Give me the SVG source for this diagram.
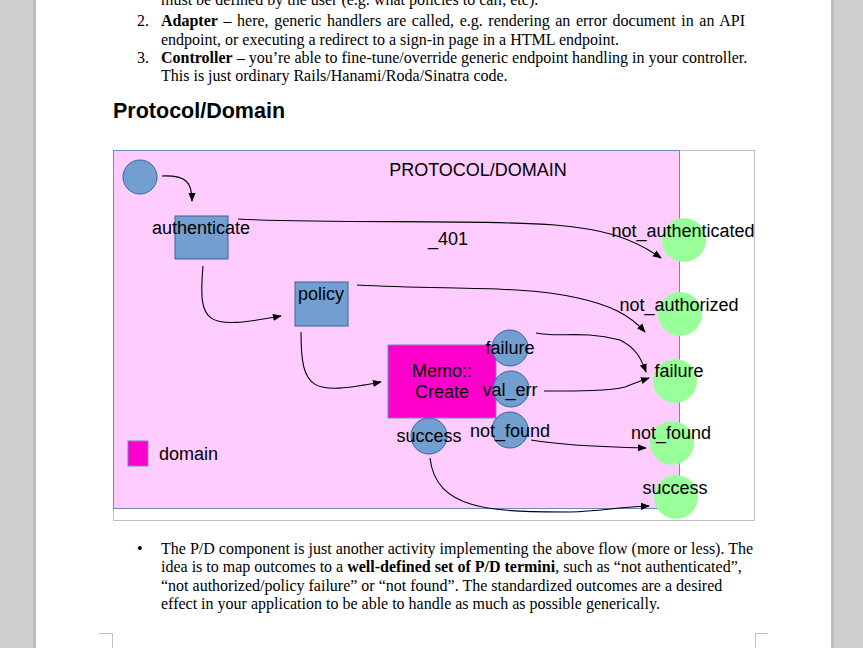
<svg xmlns="http://www.w3.org/2000/svg" width="863" height="648" viewBox="0 0 863 648">
<defs>
<style>
.doc{font-family:"Liberation Serif","Times New Roman",serif;font-size:16px;fill:#000}
.b{font-weight:bold}
.lbl{font-family:"Liberation Sans",Arial,sans-serif;font-size:18px;fill:#000}
.blue{fill:#729fcf;stroke:#3465a4;stroke-width:1}
.green{fill:#99ff99;stroke:none}
.conn{fill:none;stroke:#000;stroke-width:1.1;marker-end:url(#ah)}
</style>
<marker id="ah" viewBox="0 0 10 10" refX="9" refY="5" markerWidth="9" markerHeight="9" orient="auto" markerUnits="userSpaceOnUse">
<path d="M0,1 L10,5 L0,9 z" fill="#000"/>
</marker>
</defs>
<rect x="0" y="0" width="863" height="648" fill="#cfcfcf"/>
<rect x="33" y="0" width="3" height="648" fill="#bdbdbd"/>
<rect x="831" y="0" width="3" height="648" fill="#bdbdbd"/>
<rect x="36" y="0" width="795" height="648" fill="#ffffff"/>

<g id="text-top">
<text class="doc" x="161" y="5">must be defined by the user (e.g. what policies to call, etc).</text>
<text class="doc" x="137" y="26">2.</text>
<text class="doc" x="161" y="26" word-spacing="1.6"><tspan class="b">Adapter</tspan> – here, generic handlers are called, e.g. rendering an error document in an API</text>
<text class="doc" x="161" y="45">endpoint, or executing a redirect to a sign-in page in a HTML endpoint.</text>
<text class="doc" x="137" y="63">3.</text>
<text class="doc" x="161" y="63"><tspan class="b">Controller</tspan> – you’re able to fine-tune/override generic endpoint handling in your controller.</text>
<text class="doc" x="161" y="81">This is just ordinary Rails/Hanami/Roda/Sinatra code.</text>
<text x="113" y="118" font-family="'Liberation Sans',Arial,sans-serif" font-weight="bold" font-size="21.5" fill="#000">Protocol/Domain</text>
</g>

<g id="frame">
<rect x="113.5" y="150.5" width="641" height="370" fill="#fff" stroke="#c0c0c0"/>
<rect x="113.5" y="150.5" width="566" height="358" fill="#ffccff" stroke="#6d87c4"/>
<text class="lbl" x="478" y="176" text-anchor="middle">PROTOCOL/DOMAIN</text>
</g>

<g id="start"><circle class="blue" cx="140" cy="177" r="17"/></g>
<g id="authenticate"><rect class="blue" x="175" y="216" width="53" height="43"/><text class="lbl" x="201" y="234" text-anchor="middle">authenticate</text></g>
<g id="policy"><rect class="blue" x="295" y="282" width="53" height="44"/><text class="lbl" x="321" y="300" text-anchor="middle">policy</text></g>
<g id="memo-create"><rect x="388" y="345" width="108" height="73" fill="#ff00cc" stroke="#6d87c4"/><text class="lbl" x="442" y="377" text-anchor="middle">Memo::</text><text class="lbl" x="442" y="398" text-anchor="middle">Create</text></g>
<g id="out-failure"><circle class="blue" cx="510" cy="348" r="18"/><text class="lbl" x="510" y="354" text-anchor="middle">failure</text></g>
<g id="out-val_err"><circle class="blue" cx="511" cy="389" r="18"/><text class="lbl" x="510" y="396" text-anchor="middle">val_err</text></g>
<g id="out-not_found"><circle class="blue" cx="510" cy="430" r="18"/><text class="lbl" x="510" y="437" text-anchor="middle">not_found</text></g>
<g id="out-success"><circle class="blue" cx="429" cy="436" r="18"/><text class="lbl" x="429" y="442" text-anchor="middle">success</text></g>
<text class="lbl" x="428" y="245">_401</text>
<g id="legend"><rect x="128" y="441" width="20" height="25" fill="#ff00cc" stroke="#6d87c4"/><text class="lbl" x="159" y="460">domain</text></g>

<g id="end-not_authenticated"><circle class="green" cx="684" cy="240" r="22"/><text class="lbl" x="683" y="237" text-anchor="middle">not_authenticated</text></g>
<g id="end-not_authorized"><circle class="green" cx="680" cy="314" r="22"/><text class="lbl" x="679" y="311" text-anchor="middle">not_authorized</text></g>
<g id="end-failure"><circle class="green" cx="675" cy="381" r="22"/><text class="lbl" x="679" y="377" text-anchor="middle">failure</text></g>
<g id="end-not_found"><circle class="green" cx="672" cy="443" r="22"/><text class="lbl" x="671" y="439" text-anchor="middle">not_found</text></g>
<g id="end-success"><circle class="green" cx="676" cy="497" r="22"/><text class="lbl" x="675" y="494" text-anchor="middle">success</text></g>

<g id="connectors">
<path class="conn" d="M162,176 C186,175 192,182 192,201"/>
<path class="conn" d="M238,219 C330,224 480,219 555,225 C600,229 630,236 661,258"/>
<path class="conn" d="M203,266 C198,325 205,330 281,316"/>
<path class="conn" d="M357,285 C450,290 520,285 578,298 C610,305 630,315 645,332"/>
<path class="conn" d="M301,332 C301,392 312,395 381,382"/>
<path class="conn" d="M536,333 C560,338 580,330 620,340 C636,348 641,358 646,372"/>
<path class="conn" d="M544,391 C580,391 610,391 625,387 C635,383 640,381 649,378"/>
<path class="conn" d="M531,440 C560,445 600,447 646,448"/>
<path class="conn" d="M430,458 C436,510 490,512 570,512 C600,511 620,507 649,506"/>
</g>

<g id="text-bottom">
<text class="doc" x="137" y="554">•</text>
<text class="doc" x="161" y="554">The P/D component is just another activity implementing the above flow (more or less). The</text>
<text class="doc" x="161" y="572">idea is to map outcomes to a <tspan class="b">well-defined set of P/D termini</tspan>, such as “not authenticated”,</text>
<text class="doc" x="161" y="591">“not authorized/policy failure” or “not found”. The standardized outcomes are a desired</text>
<text class="doc" x="161" y="609">effect in your application to be able to handle as much as possible generically.</text>
</g>
<g id="corners" fill="none" stroke="#c0c0c0" stroke-width="1">
<path d="M99,633.5 H112.5 V648"/>
<path d="M768,633.5 H755.5 V648"/>
</g>
</svg>
